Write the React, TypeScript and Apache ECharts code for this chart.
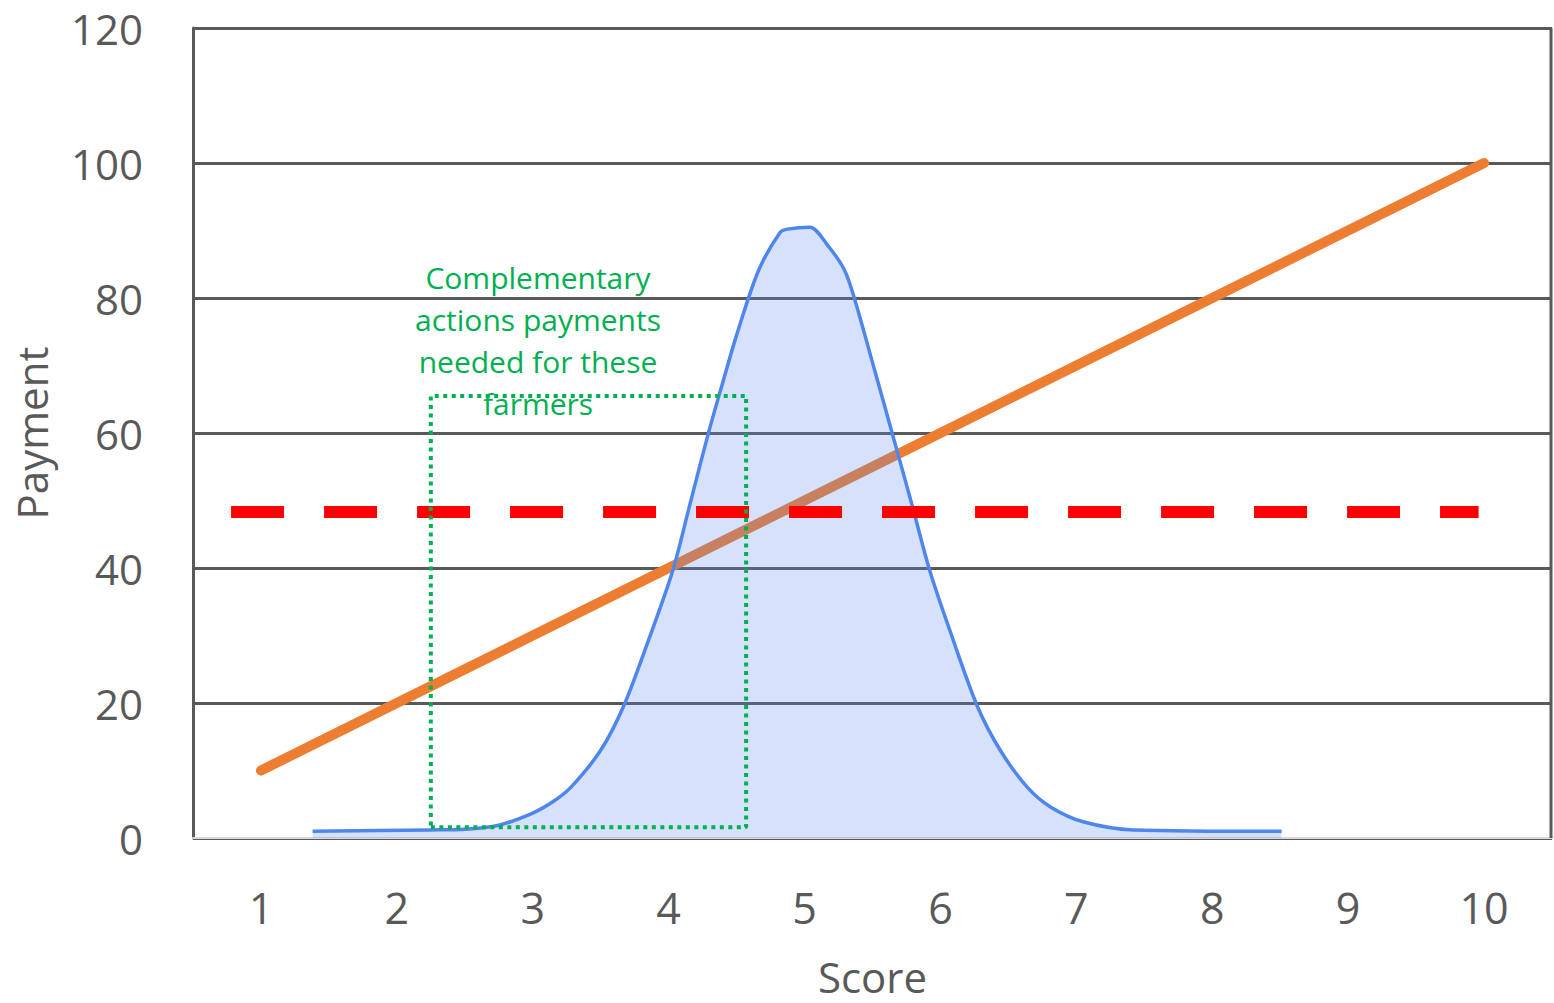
import React, { useEffect, useRef } from "react";
import * as echarts from "echarts";

const scoreLabels = ["1", "2", "3", "4", "5", "6", "7", "8", "9", "10"];
const paymentLine = [10, 20, 30, 40, 50, 60, 70, 80, 90, 100];

const curveScores = [1.38, 2.25, 2.5, 2.75, 3.0, 3.15, 3.28, 3.5, 3.67, 3.85, 4.03, 4.15, 4.29, 4.4, 4.5, 4.66, 4.82, 4.875, 5.04, 5.17, 5.29, 5.36, 5.52, 5.65, 5.79, 5.92, 6.07, 6.27, 6.44, 6.64, 6.81, 7.05, 7.42, 8.51];
const curveValues = [1.0, 1.2, 1.3, 1.9, 3.7, 5.4, 7.5, 13.0, 19.6, 29.2, 39.6, 48.9, 59.8, 67.6, 74.5, 84, 89.7, 90.2, 90.5, 87.8, 84.3, 80.4, 69, 59.6, 49.4, 39.7, 30.7, 19.6, 13.0, 7.5, 4.6, 2.4, 1.2, 1.0];

const thresholdScores = [0.78, 9.96];
const thresholdValue = 48.3;

const boxScores = [2.25, 4.57];
const boxValues = [1.6, 65.5];

const yTicks = { min: 0, max: 120, interval: 20 };
const annotation = "Complementary\nactions payments\nneeded for these\nfarmers";

export default function App() {
  const ref = useRef<HTMLDivElement>(null);
  useEffect(() => {
    document.body.style.margin = "0";
    const chart = echarts.init(ref.current!, null, { renderer: "svg" });
    const font = "'Open Sans', sans-serif";
    const curve = curveScores.map((s, i) => [s, curveValues[i]]);
    const threshold = thresholdScores.map((s) => [s, thresholdValue]);
    const box = [
      [boxScores[0], boxValues[0]],
      [boxScores[1], boxValues[0]],
      [boxScores[1], boxValues[1]],
      [boxScores[0], boxValues[1]],
      [boxScores[0], boxValues[0]],
    ];
    chart.setOption({
      animation: false,
      backgroundColor: "#ffffff",
      grid: {
        left: 193,
        right: 2,
        top: 28,
        bottom: 165,
        show: false,
        containLabel: false,
        outerBoundsMode: "none",
      },
      xAxis: [
        {
          type: "category",
          data: scoreLabels,
          boundaryGap: true,
          name: "Score",
          nameLocation: "middle",
          nameGap: 117,
          nameTextStyle: { fontFamily: font, fontSize: 42, lineHeight: 42, color: "#595959" },
          axisLine: { show: true, lineStyle: { color: "#d9d9d9", width: 2 } },
          axisTick: { show: false },
          axisLabel: { fontFamily: font, fontSize: 43, lineHeight: 44, color: "#595959", margin: 47 },
          splitLine: { show: false },
        },
        {
          type: "value",
          min: 0.5,
          max: 10.5,
          show: false,
          splitLine: { show: false },
        },
      ],
      yAxis: {
        type: "value",
        min: yTicks.min,
        max: yTicks.max,
        interval: yTicks.interval,
        name: "Payment",
        nameLocation: "middle",
        nameGap: 141,
        nameTextStyle: { fontFamily: font, fontSize: 42, lineHeight: 42, color: "#595959" },
        axisLine: { show: true, lineStyle: { color: "#595959", width: 3 } },
        axisTick: { show: false },
        axisLabel: { fontFamily: font, fontSize: 42, lineHeight: 42, color: "#595959", margin: 50 },
        splitLine: { show: true, lineStyle: { color: "#595959", width: 3 } },
      },
      graphic: [
        {
          type: "line",
          shape: { x1: 1551, y1: 28, x2: 1551, y2: 838 },
          style: { stroke: "#595959", lineWidth: 3 },
          z: 1,
        },
        {
          type: "text",
          x: 538,
          y: 256,
          style: {
            text: annotation,
            fill: "#00b050",
            font: "30px 'Open Sans', sans-serif",
            lineHeight: 42,
            align: "center",
            verticalAlign: "top",
          },
          z: 100,
        },
      ],
      series: [
        {
          type: "line",
          xAxisIndex: 0,
          data: paymentLine,
          showSymbol: false,
          lineStyle: { color: "#ed7d31", width: 10, cap: "round" },
          z: 2,
        },
        {
          type: "line",
          xAxisIndex: 1,
          data: curve,
          showSymbol: false,
          smooth: 0.3,
          lineStyle: { color: "#4f86ec", width: 3.5 },
          areaStyle: { color: "rgba(90,140,238,0.36)" },
          z: 3,
        },
        {
          type: "line",
          xAxisIndex: 1,
          data: threshold,
          showSymbol: false,
          lineStyle: { color: "#ff0000", width: 12, type: [53, 40], cap: "butt" },
          z: 4,
        },
        {
          type: "line",
          xAxisIndex: 1,
          data: box,
          showSymbol: false,
          lineStyle: { color: "#00b050", width: 4, type: [4, 4.5], cap: "butt" },
          z: 5,
        },
      ],
    });
    return () => chart.dispose();
  }, []);
  return <div ref={ref} style={{ width: 1554, height: 1003 }} />;
}
